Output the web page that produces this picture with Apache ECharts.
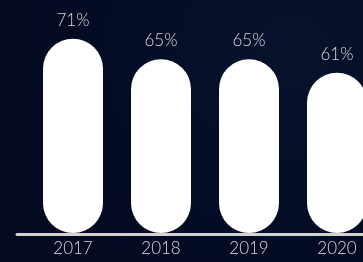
<!DOCTYPE html>
<html>
<head>
<meta charset="utf-8">
<script src="https://cdn.jsdelivr.net/npm/echarts@6/dist/echarts.min.js"></script>
<style>
  html, body { margin: 0; padding: 0; background: #040b24; }
  #chart { width: 363px; height: 262px; }
</style>
</head>
<body>
<div id="chart"></div>
<script>
var years = ['2017', '2018', '2019', '2020'];
var shares = [71, 65, 65, 61];

var myChart = echarts.init(document.getElementById('chart'));

option = {
    backgroundColor: {
        type: 'radial', x: 0.8, y: 0.2, r: 1,
        colorStops: [
            { offset: 0, color: '#07122c' },
            { offset: 1, color: '#030a22' }
        ]
    },
    animation: false,
    grid: [
        { left: 29, width: 352, top: 8, bottom: 29, outerBoundsMode: 'none' },
        { left: 17, right: 0, top: 8, bottom: 28, outerBoundsMode: 'none' }
    ],
    xAxis: [
        {
            type: 'category',
            data: years,
            gridIndex: 0,
            axisLine: { show: false },
            axisTick: { show: false },
            axisLabel: {
                color: '#dcdcdc',
                fontSize: 17,
                fontFamily: 'Lato',
                fontWeight: 300,
                margin: 7
            }
        },
        {
            type: 'value',
            gridIndex: 1,
            axisLine: { show: true, lineStyle: { color: '#d2d2d2', width: 3 } },
            axisTick: { show: false },
            axisLabel: { show: false },
            splitLine: { show: false }
        }
    ],
    yAxis: [
        {
            type: 'value', gridIndex: 0, min: 14, max: 80,
            show: false
        },
        {
            type: 'value', gridIndex: 1, show: false
        }
    ],
    series: [
        {
            type: 'bar',
            data: shares,
            barWidth: 60,
            itemStyle: { color: '#ffffff', borderRadius: 30 },
            label: {
                show: true,
                position: 'top',
                distance: 10,
                formatter: '{c}%',
                color: '#dcdcdc',
                fontSize: 17,
                fontFamily: 'Lato',
                fontWeight: 300
            }
        }
    ]
};

myChart.setOption(option);
</script>
</body>
</html>
